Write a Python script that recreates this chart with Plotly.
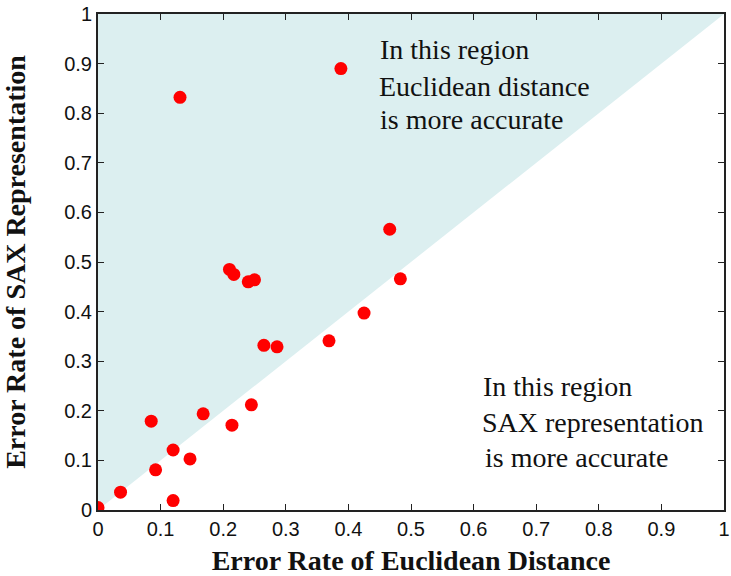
import plotly.graph_objects as go

# Data: error rates (Euclidean distance vs SAX representation)
euclid_err = [0.000, 0.036, 0.085, 0.092, 0.120, 0.120, 0.147, 0.168, 0.214, 0.245,
              0.210, 0.217, 0.240, 0.250, 0.265, 0.286, 0.369, 0.425, 0.466, 0.483,
              0.131, 0.388]
sax_err = [0.005, 0.036, 0.179, 0.081, 0.121, 0.019, 0.103, 0.194, 0.171, 0.212,
           0.485, 0.475, 0.460, 0.464, 0.332, 0.329, 0.341, 0.397, 0.566, 0.466,
           0.832, 0.890]

region_x = [0, 0, 1, 0]
region_y = [0, 1, 1, 0]

tick_vals = [0, 0.1, 0.2, 0.3, 0.4, 0.5, 0.6, 0.7, 0.8, 0.9, 1]
tick_text = ["0", "0.1", "0.2", "0.3", "0.4", "0.5", "0.6", "0.7", "0.8", "0.9", "1"]

top_lines = ["In this region", "Euclidean distance", "is more accurate"]
top_x = [0.447, 0.445, 0.448]
top_y = [0.928, 0.854, 0.787]
bot_lines = ["In this region", "SAX representation", "is more accurate"]
bot_x = [0.612, 0.610, 0.615]
bot_y = [0.250, 0.177, 0.105]

fig = go.Figure()
fig.add_trace(go.Scatter(x=region_x, y=region_y, mode="lines", fill="toself",
                         fillcolor="#dceff0", line=dict(width=0), hoverinfo="skip",
                         showlegend=False))
fig.add_trace(go.Scatter(x=euclid_err, y=sax_err, mode="markers",
                         marker=dict(color="#ff0000", size=13, line=dict(width=0)),
                         showlegend=False))

annots = []
for t, x, y in zip(top_lines, top_x, top_y):
    annots.append(dict(x=x, y=y, xref="x", yref="y", text=t, showarrow=False,
                       xanchor="left", yanchor="middle",
                       font=dict(family="Liberation Serif", size=28, color="#111")))
for t, x, y in zip(bot_lines, bot_x, bot_y):
    annots.append(dict(x=x, y=y, xref="x", yref="y", text=t, showarrow=False,
                       xanchor="left", yanchor="middle",
                       font=dict(family="Liberation Serif", size=28, color="#111")))

axis_common = dict(range=[0, 1], tickvals=tick_vals, ticktext=tick_text,
                   ticks="inside", ticklen=6, tickwidth=1, tickcolor="#222",
                   showline=True, linecolor="#222", linewidth=2, mirror="ticks",
                   showgrid=False, zeroline=False, automargin=False,
                   ticklabeloverflow="allow",
                   tickfont=dict(family="Liberation Sans", size=20, color="#111"))

fig.update_layout(
    width=731, height=576,
    margin=dict(l=98, r=7, t=14, b=66),
    paper_bgcolor="white", plot_bgcolor="white",
    xaxis=dict(**axis_common,
               title=dict(text="<b>Error Rate of Euclidean Distance</b>", standoff=12,
                          font=dict(family="Liberation Serif", size=28, color="#111"))),
    yaxis=dict(**axis_common,
               title=dict(text="<b>Error Rate of SAX Representation</b>", standoff=30,
                          font=dict(family="Liberation Serif", size=28, color="#111"))),
    annotations=annots,
)

fig.write_html("out.html")
